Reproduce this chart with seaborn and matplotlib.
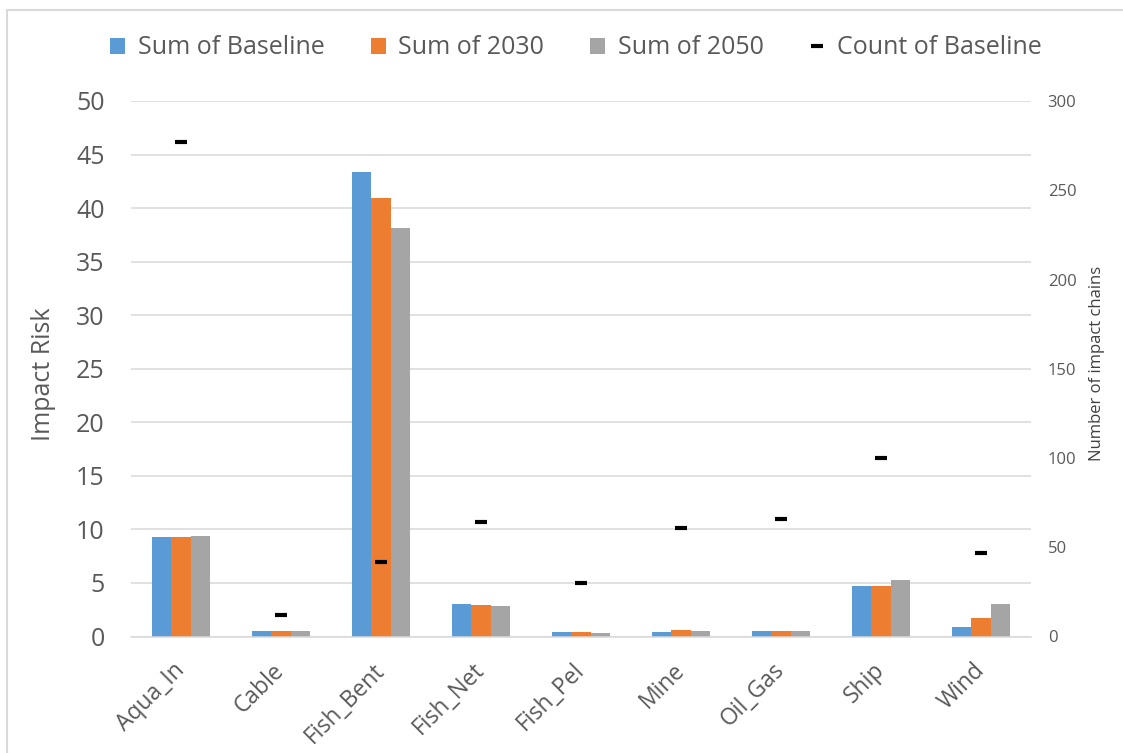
import numpy as np
import pandas as pd
import matplotlib
matplotlib.use("Agg")
import matplotlib.pyplot as plt
from matplotlib.patches import Patch
from matplotlib.lines import Line2D
import seaborn as sns

# Impact risk per pressure type, summed over impact chains
categories = ["Aqua_In", "Cable", "Fish_Bent", "Fish_Net", "Fish_Pel",
              "Mine", "Oil_Gas", "Ship", "Wind"]
sum_baseline = [9.3, 0.55, 43.4, 3.05, 0.43, 0.42, 0.47, 4.72, 0.85]
sum_2030 = [9.3, 0.55, 40.9, 2.92, 0.43, 0.57, 0.47, 4.72, 1.74]
sum_2050 = [9.4, 0.55, 38.1, 2.83, 0.31, 0.53, 0.47, 5.25, 3.08]
count_baseline = [277, 12, 42, 64, 30, 61, 66, 100, 47]

series_names = ["Sum of Baseline", "Sum of 2030", "Sum of 2050"]
count_name = "Count of Baseline"
colors = ["#5B9BD5", "#ED7D31", "#A5A5A5"]
text_color = "#595959"
grid_color = "#D9D9D9"

left_ticks = list(range(0, 51, 5))
right_ticks = list(range(0, 301, 50))

df = pd.DataFrame({
    "category": np.repeat(categories, 3),
    "series": series_names * len(categories),
    "value": np.ravel(np.column_stack([sum_baseline, sum_2030, sum_2050])),
})

sns.set_theme(style="white")
plt.rcParams["font.family"] = ["Open Sans", "DejaVu Sans"]

W, H = 1123, 753
fig = plt.figure(figsize=(W / 100, H / 100), dpi=100)
ax = fig.add_axes([131 / W, 1 - 636.5 / H, 900 / W, (636.5 - 101) / H])

sns.barplot(data=df, x="category", y="value", hue="series",
            hue_order=series_names, palette=colors, order=categories,
            width=0.58, gap=0, saturation=1, edgecolor="none",
            linewidth=0, ax=ax, legend=False, zorder=2)

ax.set_xlim(-0.5, len(categories) - 0.5)
ax.set_ylim(0, 50)
ax.set_yticks(left_ticks)
ax.yaxis.grid(True, color=grid_color, linewidth=1.1, zorder=0)
ax.set_axisbelow(True)
for side in ["top", "right", "left"]:
    ax.spines[side].set_visible(False)
ax.spines["bottom"].set_color(grid_color)
ax.spines["bottom"].set_linewidth(1.1)
ax.tick_params(axis="y", length=0, pad=19, labelsize=18, labelcolor=text_color)
ax.tick_params(axis="x", length=0, pad=22, labelsize=16.5, labelcolor=text_color)
ax.set_xlabel("")
ax.set_ylabel("")
for lbl in ax.get_xticklabels():
    lbl.set_rotation(45)
    lbl.set_ha("right")
    lbl.set_va("center")
    lbl.set_rotation_mode("anchor")

# Number of impact chains on the secondary axis
ax2 = ax.twinx()
ax2.plot(np.arange(len(categories)), count_baseline, linestyle="none",
         marker="_", markersize=9, markeredgewidth=3, color="black", zorder=5)
ax2.set_ylim(0, 300)
ax2.set_yticks(right_ticks)
for side in ["top", "right", "left", "bottom"]:
    ax2.spines[side].set_visible(False)
ax2.tick_params(axis="y", length=0, pad=12, labelsize=12, labelcolor=text_color)
ax2.grid(False)

fig.text(44 / W, 1 - 374 / H, "Impact Risk", rotation=90, ha="center",
         va="center", fontsize=18, color=text_color)
fig.text(1097 / W, 1 - 363 / H, "Number of impact chains", rotation=90,
         ha="center", va="center", fontsize=12, color="#404040")

handles = [Patch(facecolor=c, edgecolor="none") for c in colors]
handles.append(Line2D([], [], linestyle="none", marker="_", markersize=8,
                      markeredgewidth=3, color="black"))
fig.legend(handles, series_names + [count_name], loc="center",
           bbox_to_anchor=(576 / W, 1 - 48 / H), ncol=4, frameon=False,
           fontsize=18, labelcolor=text_color, handlelength=0.6,
           handleheight=0.6, handletextpad=0.5, columnspacing=1.85)

# chart area border (top and left edges)
fig.add_artist(Line2D([7 / W, 7 / W], [0, 1 - 10 / H], color=grid_color,
                      linewidth=1.5, transform=fig.transFigure))
fig.add_artist(Line2D([7 / W, 1], [1 - 10 / H, 1 - 10 / H], color=grid_color,
                      linewidth=1.5, transform=fig.transFigure))

fig.savefig("out.png", dpi=100, facecolor="white")
